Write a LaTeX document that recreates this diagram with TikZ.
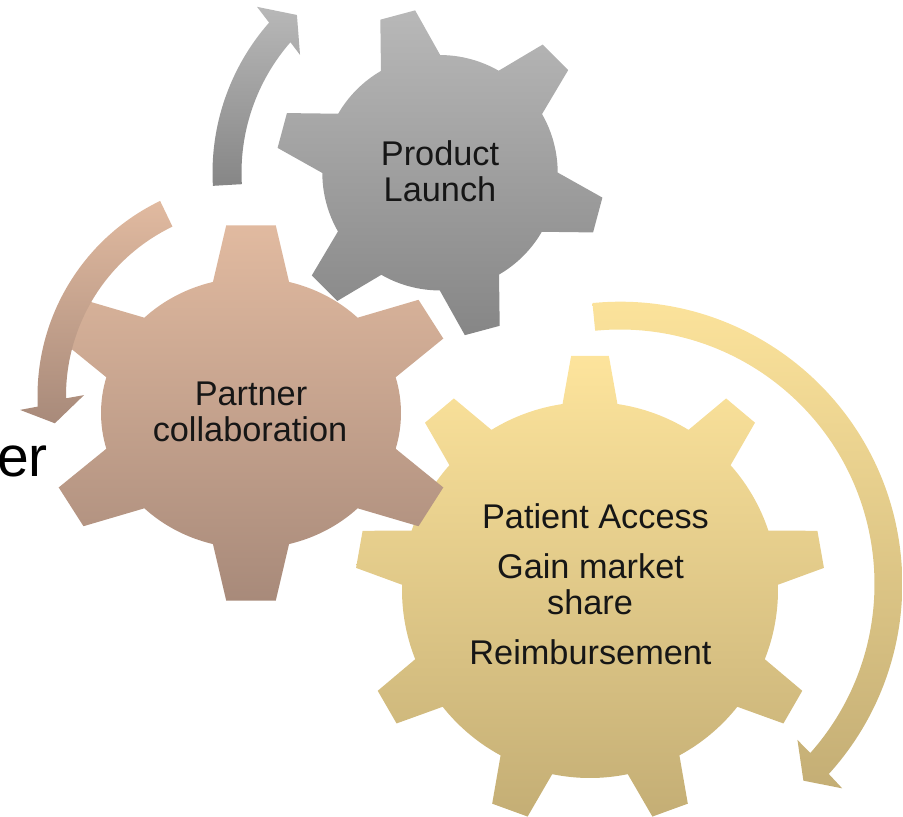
\documentclass[tikz,border=0pt]{standalone}
\usepackage{fontspec}
\setmainfont{Liberation Sans}
\definecolor{yTop}{RGB}{253,228,156}
\definecolor{yBot}{RGB}{196,174,117}
\definecolor{sTop}{RGB}{225,186,160}
\definecolor{sBot}{RGB}{168,138,122}
\definecolor{gTop}{RGB}{184,184,184}
\definecolor{gBot}{RGB}{134,134,134}
\definecolor{gtxt}{RGB}{22,22,22}
\tikzset{
  yshade/.style={top color=yTop, bottom color=yBot},
  sshade/.style={top color=sTop, bottom color=sBot},
  gshade/.style={top color=gTop, bottom color=gBot},
  lbl/.style={font=\fontsize{34.3}{36}\selectfont, text=gtxt, anchor=base, inner sep=0pt},
}
\begin{document}
\begin{tikzpicture}[x=1pt, y=1pt]
\useasboundingbox (0,0) rectangle (903,-817);

% ---------- yellow arrow ----------
\begin{scope}[shift={(620,-584)}]
\shade[yshade] (95.6:282.3pt) arc[start angle=95.6, end angle=-42.3, radius=282.3pt]
  -- (-42.6:301.9pt) -- (-47:268.9pt) -- (-41.3:236.2pt) -- (-41.6:254.5pt)
  arc[start angle=-41.6, end angle=95.6, radius=254.5pt] -- cycle;
\end{scope}

% ---------- yellow gear (9 teeth) ----------
\begin{scope}[shift={(590,-590)}]
\shade[yshade] (90-8.4:188pt)
  \foreach \k [evaluate=\k as \t using 90+40*\k] in {0,...,8}{
    -- (\t-8.4:188pt) -- (\t-4.6:235pt) -- (\t+4.6:235pt) -- (\t+8.4:188pt)
    arc[start angle=\t+8.4, end angle=\t+40-8.4, radius=188pt]
  } -- cycle;
\end{scope}

% ---------- salmon gear (6 teeth, slightly wide) ----------
\begin{scope}[shift={(251,-413)}, xscale=1.107]
\shade[sshade] (90-14.7:135.5pt)
  \foreach \k [evaluate=\k as \t using 90+60*\k] in {0,...,5}{
    -- (\t-14.7:135.5pt) -- (\t-6.8:189pt) -- (\t+6.8:189pt) -- (\t+14.7:135.5pt)
    arc[start angle=\t+14.7, end angle=\t+60-14.7, radius=135.5pt]
  } -- cycle;
\end{scope}

% ---------- salmon arrow ----------
\begin{scope}[shift={(254,-396)}]
\shade[sshade] (115.7:216.5pt) arc[start angle=115.7, end angle=182.8, radius=216.5pt]
  -- (183.4:234.4pt) -- (187.8:201pt) -- (179.7:170pt) -- (180.7:188pt)
  arc[start angle=180.7, end angle=115.7, radius=188pt] -- cycle;
\end{scope}

% ---------- grey gear (6 teeth) ----------
\begin{scope}[shift={(440,-172.75)}]
\shade[gshade] (105-15.1:117.7pt)
  \foreach \k [evaluate=\k as \t using 105+60*\k] in {0,...,5}{
    -- (\t-15.1:117.7pt) -- (\t-6.3:164.3pt) -- (\t+6.3:164.3pt) -- (\t+15.1:117.7pt)
    arc[start angle=\t+15.1, end angle=\t+60-15.1, radius=117.7pt]
  } -- cycle;
\end{scope}

% ---------- grey arrow ----------
\begin{scope}[shift={(440,-172.75)}]
\shade[gshade] (183.3:227.5pt) arc[start angle=183.3, end angle=138.7, radius=227.5pt]
  -- (137.8:247pt) -- (132.2:213pt) -- (139.9:183pt) -- (138.9:198.5pt)
  arc[start angle=138.9, end angle=183.3, radius=198.5pt] -- cycle;
\end{scope}

% ---------- labels ----------
\node[lbl] (pl1) at (440,-165.7) {Product};
\node[lbl] (pl2) at (440,-201.7) {Launch};
\node[lbl] (pc1) at (251,-405) {Partner};
\node[lbl] (pc2) at (250,-441) {collaboration};
\node[lbl] (pa1) at (595.5,-528) {Patient Access};
\node[lbl] (pa2) at (590.5,-578) {Gain market};
\node[lbl] (pa3) at (590,-614) {share};
\node[lbl] (pa4) at (590.5,-664) {Reimbursement};
\node[anchor=base east, inner sep=0pt, font=\fontsize{57}{60}\selectfont, text=black] (er) at (48,-476.5) {er};
\end{tikzpicture}
\end{document}
